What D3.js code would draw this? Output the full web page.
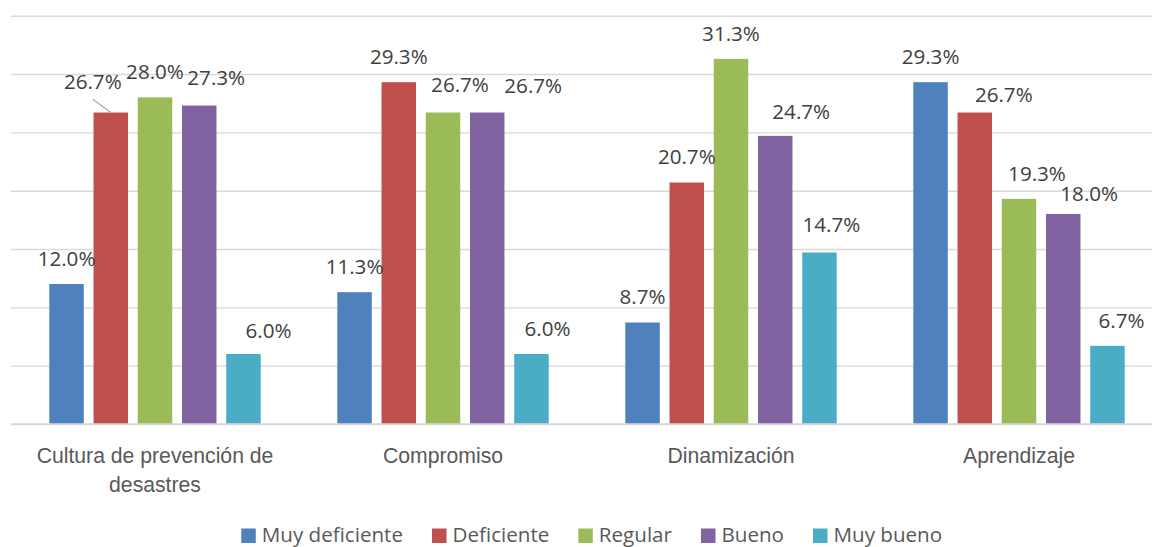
<!DOCTYPE html>
<html>
<head>
<meta charset="utf-8">
<script src="https://cdn.jsdelivr.net/npm/d3@7/dist/d3.min.js"></script>
<style>
  html, body { margin: 0; padding: 0; background: #ffffff; }
  svg { display: block; font-family: "Open Sans", "Noto Sans", sans-serif; }
</style>
</head>
<body>
<svg id="chart" width="1152" height="547"></svg>
<script>
// ---------- data ----------
const categories = ["Cultura de prevención de desastres", "Compromiso", "Dinamización", "Aprendizaje"];
const categoryLines = [["Cultura de prevención de", "desastres"], ["Compromiso"], ["Dinamización"], ["Aprendizaje"]];
const seriesNames = ["Muy deficiente", "Deficiente", "Regular", "Bueno", "Muy bueno"];
const muyDeficiente = [12.0, 11.3, 8.7, 29.3];
const deficiente    = [26.7, 29.3, 20.7, 26.7];
const regular       = [28.0, 26.7, 31.3, 19.3];
const bueno         = [27.3, 26.7, 24.7, 18.0];
const muyBueno      = [6.0, 6.0, 14.7, 6.7];
const yTicks = [0, 5, 10, 15, 20, 25, 30, 35];

// label nudges (manual label placement in the original), per series, per category
const labelDx = [[0, 0, 0, 0], [-18, 0, 0, 29], [0, 17, 0, 18], [17, 46, 26, 26], [25, 16, 12, 14]];
const labelDy = [[0, 0, 0, 0], [-5, 0, 0, 7.5], [0, -2.5, 0, 0.5], [-2, -1, 1, 5], [2.5, 0, -2.5, 0]];
const leaderLines = [[1, 0]]; // [seriesIndex, categoryIndex]

const seriesValues = [muyDeficiente, deficiente, regular, bueno, muyBueno];
const colors = ["#4f81bd", "#c0504d", "#9bbb59", "#8064a2", "#4bacc6"];

// ---------- layout ----------
const svg = d3.select("#chart");
const plot = { left: 11, right: 1163, top: 15.7, bottom: 424 };

const x0 = d3.scaleBand().domain(categories).range([plot.left, plot.right]).paddingInner(0.266).paddingOuter(0.133);
const x1 = d3.scaleBand().domain(seriesNames).range([0, x0.bandwidth()]).paddingInner(0.22).paddingOuter(0);
const y = d3.scaleLinear().domain([0, 35]).range([plot.bottom, plot.top]);

// gridlines
const grid = svg.append("g").attr("transform", `translate(${plot.left},0)`)
  .call(d3.axisLeft(y).tickValues(yTicks).tickSize(-(plot.right - plot.left)).tickFormat(""));
grid.select(".domain").remove();
grid.selectAll(".tick line").attr("stroke", "#d9d9d9").attr("stroke-width", 1.4);

// bars
const data = [];
seriesNames.forEach((s, si) => {
  categories.forEach((c, ci) => {
    data.push({ s, si, c, ci, v: seriesValues[si][ci] });
  });
});

svg.append("g").selectAll("rect").data(data).join("rect")
  .attr("x", d => x0(d.c) + x1(d.s))
  .attr("y", d => y(d.v))
  .attr("width", x1.bandwidth())
  .attr("height", d => y(0) - y(d.v))
  .attr("fill", d => colors[d.si]);

// data labels
const labelGap = 18.3;
const lbl = svg.append("g");
lbl.selectAll("text").data(data).join("text")
  .attr("x", d => x0(d.c) + x1(d.s) + x1.bandwidth() / 2 + labelDx[d.si][d.ci])
  .attr("y", d => y(d.v) - labelGap + labelDy[d.si][d.ci])
  .attr("text-anchor", "middle")
  .attr("font-size", 20.6)
  .attr("fill", "#404040")
  .text(d => d.v.toFixed(1) + "%");

// leader lines
leaderLines.forEach(([si, ci]) => {
  const v = seriesValues[si][ci];
  const bx = x0(categories[ci]) + x1(seriesNames[si]) + x1.bandwidth() / 2;
  const lx = bx + labelDx[si][ci];
  const ly = y(v) - labelGap + labelDy[si][ci];
  svg.append("line")
    .attr("x1", lx).attr("y1", ly + 10)
    .attr("x2", bx).attr("y2", y(v))
    .attr("stroke", "#a6a6a6").attr("stroke-width", 1.2);
});

// x axis
const xAxis = svg.append("g").attr("transform", `translate(0,${plot.bottom})`)
  .call(d3.axisBottom(x0).tickSize(0).tickFormat(""));
xAxis.select(".domain").attr("stroke", "#d9d9d9").attr("stroke-width", 1.4)
  .attr("d", `M${plot.left},0H${plot.right}`);
xAxis.selectAll(".tick").each(function (c, i) {
  const t = d3.select(this).append("text")
    .attr("text-anchor", "middle")
    .attr("font-size", 21.2)
    .attr("fill", "#595959")
    .attr("y", 38.7);
  categoryLines[i].forEach((line, li) => {
    t.append("tspan").attr("x", 0).attr("dy", li === 0 ? 0 : 29).text(line);
  });
});

// legend
const legend = svg.append("g");
const items = legend.selectAll("g").data(seriesNames).join("g");
items.append("rect").attr("width", 14.5).attr("height", 14.5).attr("y", 528.5).attr("fill", (d, i) => colors[i]);
items.append("text").attr("x", 20.5).attr("y", 542).attr("font-size", 20.6).attr("fill", "#595959").text(d => d);
let cx = 0;
items.each(function () {
  const g = d3.select(this);
  g.attr("transform", `translate(${cx},0)`);
  const w = g.select("text").node().getComputedTextLength();
  cx += 20.5 + w + 29;
});
const totalW = cx - 29;
legend.attr("transform", `translate(${591.7 - totalW / 2},0)`);
</script>
</body>
</html>
